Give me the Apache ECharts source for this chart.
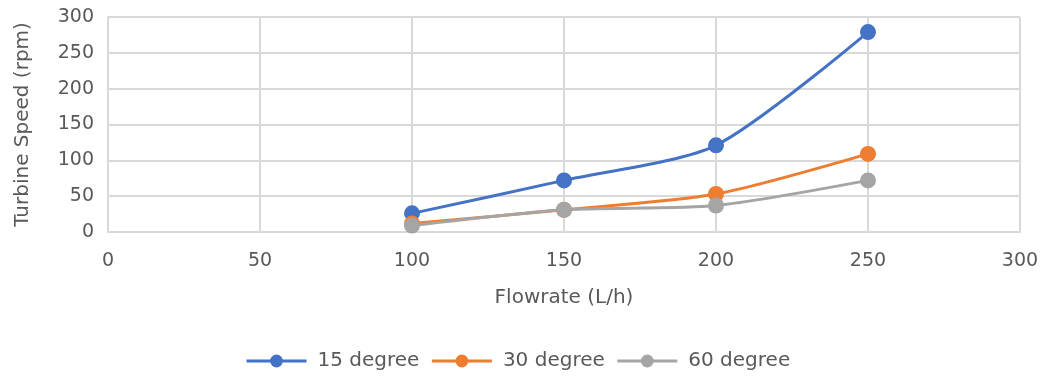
<!DOCTYPE html>
<html>
<head>
<meta charset="utf-8">
<script src="https://cdn.jsdelivr.net/npm/echarts@6/dist/echarts.min.js"></script>
<style>
  html, body { margin: 0; padding: 0; background: #fff; }
  #chart { width: 1046px; height: 383px; }
</style>
</head>
<body>
<div id="chart"></div>
<script>
// Flowrate (L/h) on the x axis
const flowrates = [100, 150, 200, 250];
// Turbine speed (rpm) per blade angle
const speed15 = [26, 72, 121, 279];
const speed30 = [12, 31, 53, 109];
const speed60 = [9, 31, 37, 72];
const seriesNames = ['15 degree', '30 degree', '60 degree'];
const seriesColors = ['#4472C4', '#ED7D31', '#A5A5A5'];

const FONT = '"DejaVu Sans", sans-serif';
const TEXT = '#595959';

function makeSeries(name, values, color) {
  return {
    name: name,
    type: 'line',
    smooth: 0.25,
    data: flowrates.map((x, i) => [x, values[i]]),
    symbol: 'circle',
    symbolSize: 16,
    lineStyle: { width: 3, color: color },
    itemStyle: { color: color },
    z: 3
  };
}

const chart = echarts.init(document.getElementById('chart'));
chart.setOption({
  animation: false,
  backgroundColor: '#fff',
  grid: { left: 108, right: 26, top: 17, bottom: 151, containLabel: false },
  legend: {
    bottom: 7,
    left: 240,
    itemWidth: 60,
    itemHeight: 16,
    itemGap: 11,
    lineStyle: { width: 3 },
    textStyle: { fontFamily: FONT, fontSize: 20, color: TEXT, padding: [0, 0, 0, 6] },
    data: seriesNames
  },
  xAxis: {
    type: 'value',
    min: 0, max: 300, interval: 50,
    name: 'Flowrate (L/h)',
    nameLocation: 'middle',
    nameGap: 56,
    nameTextStyle: { fontFamily: FONT, fontSize: 20, color: TEXT },
    axisLine: { show: true, lineStyle: { color: '#d9d9d9', width: 2 } },
    axisTick: { show: false },
    axisLabel: { fontFamily: FONT, fontSize: 19, color: TEXT, margin: 20 },
    splitLine: { show: true, lineStyle: { color: '#d9d9d9', width: 2 } }
  },
  yAxis: {
    type: 'value',
    min: 0, max: 300, interval: 50,
    name: 'Turbine Speed (rpm)',
    nameLocation: 'middle',
    nameRotate: 90,
    nameGap: 75,
    nameTextStyle: { fontFamily: FONT, fontSize: 20, color: TEXT },
    axisLine: { show: true, lineStyle: { color: '#d9d9d9', width: 2 } },
    axisTick: { show: false },
    axisLabel: { fontFamily: FONT, fontSize: 19, color: TEXT, margin: 14 },
    splitLine: { show: true, lineStyle: { color: '#d9d9d9', width: 2 } }
  },
  series: [
    makeSeries(seriesNames[0], speed15, seriesColors[0]),
    makeSeries(seriesNames[1], speed30, seriesColors[1]),
    makeSeries(seriesNames[2], speed60, seriesColors[2])
  ]
});
</script>
</body>
</html>
